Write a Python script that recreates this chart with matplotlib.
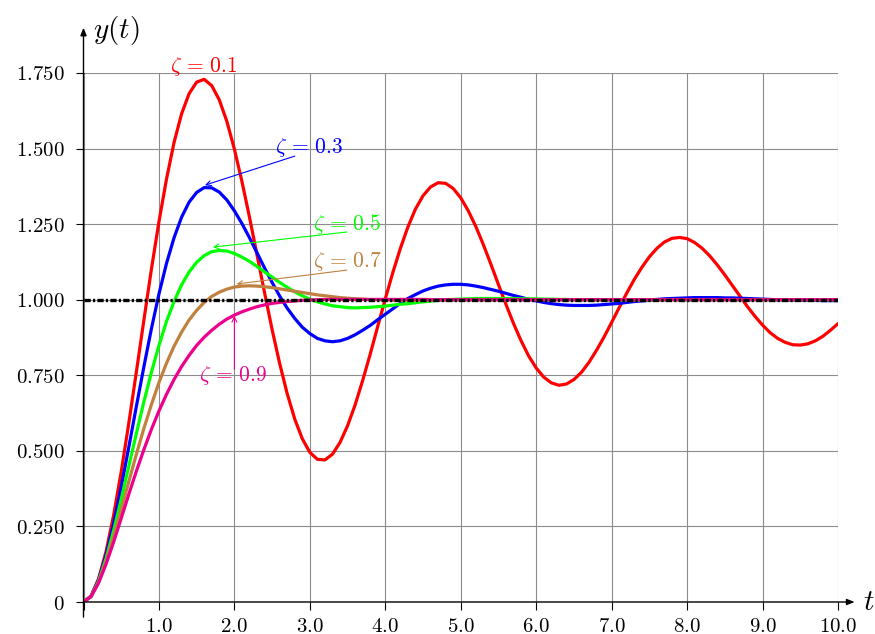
import numpy as np
import matplotlib as mpl
import matplotlib.pyplot as plt

mpl.rcParams['mathtext.fontset'] = 'cm'
mpl.rcParams['font.family'] = 'serif'
mpl.rcParams['font.serif'] = ['DejaVu Serif']
mpl.rcParams['lines.scale_dashes'] = False

# sample times, every 0.1 s
t = np.linspace(0, 10, 101)

# step responses, one list per damping ratio
# (each row covers one second: t = k.0 ... k.9)
y_z01 = [0, 0.020, 0.077, 0.168, 0.288, 0.431, 0.591, 0.760, 0.932, 1.101,
         1.258, 1.399, 1.520, 1.615, 1.682, 1.720, 1.729, 1.708, 1.661, 1.590,
         1.498, 1.391, 1.273, 1.148, 1.023, 0.901, 0.789, 0.689, 0.605, 0.540,
         0.495, 0.472, 0.470, 0.489, 0.528, 0.583, 0.652, 0.733, 0.820, 0.912,
         1.003, 1.090, 1.170, 1.241, 1.300, 1.344, 1.373, 1.387, 1.385, 1.368,
         1.337, 1.294, 1.242, 1.182, 1.117, 1.050, 0.984, 0.921, 0.864, 0.814,
         0.774, 0.744, 0.725, 0.717, 0.721, 0.736, 0.760, 0.793, 0.833, 0.877,
         0.925, 0.974, 1.022, 1.067, 1.107, 1.142, 1.170, 1.191, 1.203, 1.206,
         1.202, 1.189, 1.170, 1.145, 1.115, 1.082, 1.047, 1.012, 0.977, 0.945,
         0.916, 0.891, 0.872, 0.859, 0.851, 0.850, 0.854, 0.864, 0.879, 0.899,
         0.921]
y_z03 = [0, 0.019, 0.073, 0.156, 0.260, 0.381, 0.512, 0.646, 0.778, 0.904,
         1.019, 1.120, 1.205, 1.273, 1.323, 1.355, 1.371, 1.370, 1.356, 1.330,
         1.294, 1.252, 1.205, 1.155, 1.105, 1.057, 1.012, 0.972, 0.938, 0.909,
         0.888, 0.872, 0.864, 0.861, 0.864, 0.872, 0.884, 0.899, 0.915, 0.934,
         0.952, 0.970, 0.988, 1.004, 1.017, 1.029, 1.038, 1.045, 1.049, 1.051,
         1.051, 1.049, 1.045, 1.040, 1.034, 1.028, 1.021, 1.014, 1.008, 1.001,
         0.996, 0.991, 0.987, 0.984, 0.982, 0.981, 0.981, 0.981, 0.982, 0.984,
         0.986, 0.988, 0.991, 0.994, 0.996, 0.998, 1.001, 1.003, 1.004, 1.005,
         1.006, 1.007, 1.007, 1.007, 1.007, 1.006, 1.006, 1.005, 1.004, 1.003,
         1.002, 1.001, 1.000, 0.999, 0.999, 0.998, 0.998, 0.998, 0.997, 0.997,
         0.997]
y_z05 = [0, 0.018, 0.069, 0.145, 0.237, 0.340, 0.449, 0.557, 0.662, 0.760,
         0.849, 0.928, 0.994, 1.049, 1.092, 1.124, 1.146, 1.159, 1.163, 1.161,
         1.153, 1.141, 1.127, 1.110, 1.092, 1.075, 1.057, 1.041, 1.026, 1.013,
         1.002, 0.993, 0.986, 0.980, 0.977, 0.974, 0.973, 0.974, 0.975, 0.977,
         0.979, 0.982, 0.985, 0.987, 0.990, 0.993, 0.995, 0.998, 0.999, 1.001,
         1.002, 1.003, 1.004, 1.004, 1.004, 1.004, 1.004, 1.004, 1.003, 1.003,
         1.003, 1.002, 1.002, 1.001, 1.001, 1.000, 1.000, 1.000, 1.000, 1.000,
         0.999, 0.999, 0.999, 0.999, 0.999, 0.999, 0.999, 0.999, 1.000, 1.000,
         1.000, 1.000, 1.000, 1.000, 1.000, 1.000, 1.000, 1.000, 1.000, 1.000,
         1.000, 1.000, 1.000, 1.000, 1.000, 1.000, 1.000, 1.000, 1.000, 1.000,
         1.000]
y_z07 = [0, 0.018, 0.066, 0.135, 0.217, 0.306, 0.398, 0.488, 0.574, 0.653,
         0.726, 0.790, 0.846, 0.893, 0.933, 0.965, 0.991, 1.011, 1.025, 1.035,
         1.042, 1.045, 1.046, 1.045, 1.043, 1.040, 1.036, 1.032, 1.028, 1.024,
         1.020, 1.016, 1.013, 1.010, 1.007, 1.005, 1.003, 1.002, 1.000, 1.000,
         0.999, 0.998, 0.998, 0.998, 0.998, 0.998, 0.998, 0.998, 0.998, 0.999,
         0.999, 0.999, 0.999, 0.999, 0.999, 1.000, 1.000, 1.000, 1.000, 1.000,
         1.000, 1.000, 1.000, 1.000, 1.000, 1.000, 1.000, 1.000, 1.000, 1.000,
         1.000, 1.000, 1.000, 1.000, 1.000, 1.000, 1.000, 1.000, 1.000, 1.000,
         1.000, 1.000, 1.000, 1.000, 1.000, 1.000, 1.000, 1.000, 1.000, 1.000,
         1.000, 1.000, 1.000, 1.000, 1.000, 1.000, 1.000, 1.000, 1.000, 1.000,
         1.000]
y_z09 = [0, 0.018, 0.063, 0.126, 0.199, 0.277, 0.356, 0.432, 0.504, 0.571,
         0.632, 0.687, 0.736, 0.779, 0.816, 0.849, 0.876, 0.899, 0.919, 0.936,
         0.949, 0.960, 0.969, 0.977, 0.983, 0.988, 0.991, 0.994, 0.996, 0.998,
         0.999, 1.000, 1.001, 1.001, 1.001, 1.001, 1.001, 1.001, 1.001, 1.001,
         1.001, 1.001, 1.001, 1.001, 1.001, 1.001, 1.000, 1.000, 1.000, 1.000,
         1.000, 1.000, 1.000, 1.000, 1.000, 1.000, 1.000, 1.000, 1.000, 1.000,
         1.000, 1.000, 1.000, 1.000, 1.000, 1.000, 1.000, 1.000, 1.000, 1.000,
         1.000, 1.000, 1.000, 1.000, 1.000, 1.000, 1.000, 1.000, 1.000, 1.000,
         1.000, 1.000, 1.000, 1.000, 1.000, 1.000, 1.000, 1.000, 1.000, 1.000,
         1.000, 1.000, 1.000, 1.000, 1.000, 1.000, 1.000, 1.000, 1.000, 1.000,
         1.000]

ref_t = [0, 10]
ref_y = [1, 1]

zetas = ['0.1', '0.3', '0.5', '0.7', '0.9']
curves = [y_z01, y_z03, y_z05, y_z07, y_z09]
colors = ['#ff0000', '#0000ff', '#00ff00', '#bf8040', '#ec008c']

xticks = [0, 1, 2, 3, 4, 5, 6, 7, 8, 9, 10]
xticklabels = ['', '1.0', '2.0', '3.0', '4.0', '5.0', '6.0', '7.0', '8.0', '9.0', '10.0']
yticks = [0, 0.25, 0.5, 0.75, 1.0, 1.25, 1.5, 1.75]
yticklabels = ['0', '0.250', '0.500', '0.750', '1.000', '1.250', '1.500', '1.750']

fig = plt.figure(figsize=(8.75, 6.34), dpi=100)
ax = fig.add_axes([83.5 / 875, 32 / 634, 754.5 / 875, 529 / 634])

for y, c in zip(curves, colors):
    ax.plot(t, y, color=c, lw=2.3, zorder=3, solid_capstyle='round',
            solid_joinstyle='round')

ax.plot(ref_t, ref_y, color='black', lw=2.4, zorder=4,
        dashes=(4.5, 1.6, 1.6, 1.6))

ax.set_xlim(0, 10)
ax.set_ylim(0, 1.75)
for s in ax.spines.values():
    s.set_visible(False)

ax.set_xticks(xticks)
ax.set_xticklabels(['$%s$' % s if s else '' for s in xticklabels])
ax.set_yticks(yticks)
ax.set_yticklabels(['$%s$' % s for s in yticklabels])
ax.tick_params(axis='both', direction='out', length=5.5, width=0.8,
               labelsize=15, color='black')
ax.tick_params(axis='x', pad=5)
ax.tick_params(axis='y', pad=8)
ax.grid(True, color='#8c8c8c', lw=0.8)
ax.set_axisbelow(True)

# axis arrows
arrow = dict(arrowstyle='-|>,head_length=0.45,head_width=0.18', color='black',
             lw=1.0, shrinkA=0, shrinkB=0)
ax.annotate('', xy=(0, 1.90), xytext=(0, -0.05), arrowprops=arrow,
            annotation_clip=False)
ax.annotate('', xy=(10.22, 0), xytext=(0, 0), arrowprops=arrow,
            annotation_clip=False)
ax.text(0.13, 1.89, r'$y(t)$', fontsize=21, ha='left', va='center')
ax.text(10.33, 0.0, r'$t$', fontsize=21, ha='left', va='center', clip_on=False)

# labels with arrows
text_pos = [(1.59, 1.773), (2.99, 1.502), (3.50, 1.250), (3.50, 1.125), (1.99, 0.748)]
arrow_from = [None, (2.80, 1.475), (3.49, 1.224), (3.49, 1.098), (2.0, 0.77)]
arrow_to = [None, (1.61, 1.379), (1.715, 1.174), (2.03, 1.052), (2.0, 0.946)]

for z, c, tp, a0, a1 in zip(zetas, colors, text_pos, arrow_from, arrow_to):
    ax.text(tp[0], tp[1], r'$\zeta\,=\,%s$' % z, color=c, fontsize=15.5,
            ha='center', va='center', zorder=6)
    if a0 is not None:
        ax.annotate('', xy=a1, xytext=a0, zorder=6,
                    arrowprops=dict(arrowstyle='->,head_length=0.35,head_width=0.18',
                                    color=c, lw=0.8, shrinkA=0, shrinkB=0))

fig.savefig('out.png', dpi=100)
